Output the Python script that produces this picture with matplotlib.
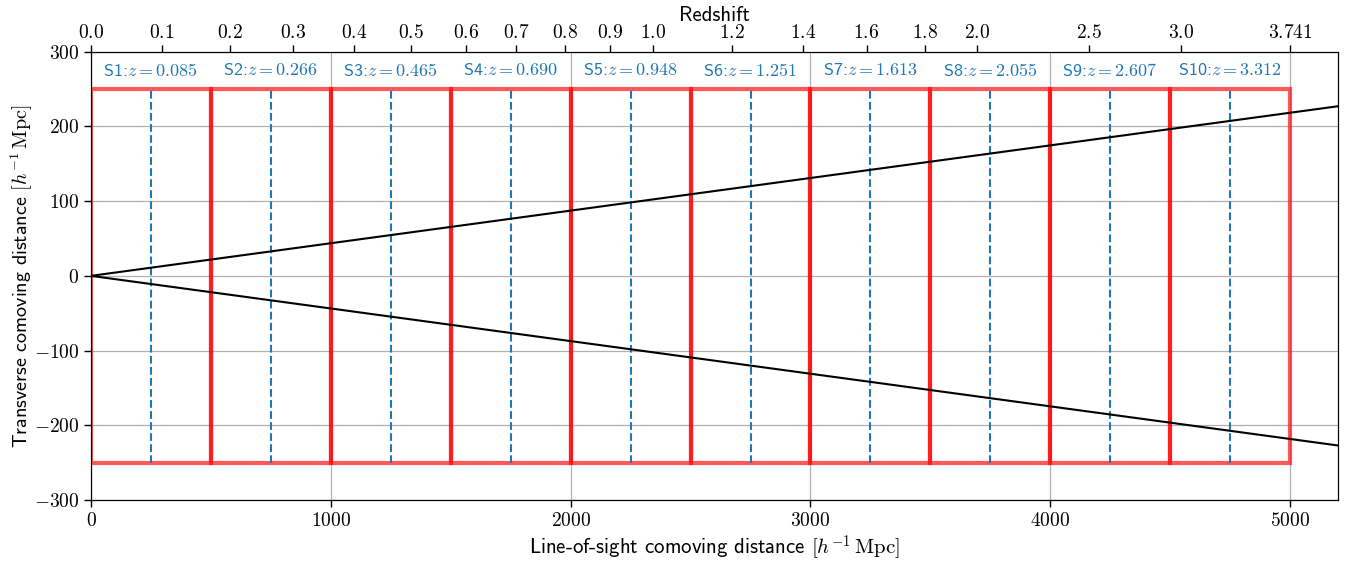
import matplotlib
matplotlib.use('Agg')
import matplotlib.pyplot as plt
import numpy as np
from matplotlib.patches import Rectangle
from matplotlib.ticker import FuncFormatter

plt.rcParams['font.family'] = ['cmss10', 'DejaVu Sans']
plt.rcParams['mathtext.fontset'] = 'cm'
plt.rcParams['axes.unicode_minus'] = False

# slices along the line of sight
slice_names = ['S1', 'S2', 'S3', 'S4', 'S5', 'S6', 'S7', 'S8', 'S9', 'S10']
slice_starts = [0, 500, 1000, 1500, 2000, 2500, 3000, 3500, 4000, 4500]
slice_width = 500
slice_centers = [250, 750, 1250, 1750, 2250, 2750, 3250, 3750, 4250, 4750]
slice_z = [0.085, 0.266, 0.465, 0.690, 0.948, 1.251, 1.613, 2.055, 2.607, 3.312]
box_half_height = 250

# light cone (half opening angle in degrees) and far end
half_angle_deg = 2.5
cone_end = 5200

# redshift <-> comoving distance pairs
known_z = [0.0] + slice_z + [3.741]
known_d = [0] + slice_centers + [5000]
top_ticks = [0.0, 0.1, 0.2, 0.3, 0.4, 0.5, 0.6, 0.7, 0.8, 0.9, 1.0,
             1.2, 1.4, 1.6, 1.8, 2.0, 2.5, 3.0, 3.741]
top_labels = ['0.0', '0.1', '0.2', '0.3', '0.4', '0.5', '0.6', '0.7', '0.8',
              '0.9', '1.0', '1.2', '1.4', '1.6', '1.8', '2.0', '2.5', '3.0', '3.741']


def z_to_d(z):
    # interpolate in u = 1 - 1/sqrt(1+z), where D(z) is close to linear
    u = 1 - 1 / np.sqrt(1 + np.asarray(z, dtype=float))
    ku = 1 - 1 / np.sqrt(1 + np.asarray(known_z))
    return np.interp(u, ku, known_d)


fig = plt.figure(figsize=(13.52, 5.62), dpi=100)
ax = fig.add_axes([0.0673, 0.1103, 0.9224, 0.7977])

ax.grid(True, color='#b0b0b0', linewidth=0.9, zorder=0)
ax.set_axisbelow(True)

for name, x0, xc, z in zip(slice_names, slice_starts, slice_centers, slice_z):
    ax.add_patch(Rectangle((x0, -box_half_height), slice_width, 2 * box_half_height,
                           fill=False, edgecolor='red', alpha=0.65, linewidth=3, zorder=2))
    ax.plot([xc, xc], [-box_half_height, box_half_height], color='tab:blue',
            linestyle='--', linewidth=1.5, zorder=3)
    ax.text(xc, 275, name + ':' + '$z = %.3f$' % z, color='tab:blue',
            fontsize=13, ha='center', va='center', zorder=4)

slope = np.tan(np.radians(half_angle_deg))
ax.plot([0, cone_end], [0, slope * cone_end], color='black', linewidth=1.5, zorder=4)
ax.plot([0, cone_end], [0, -slope * cone_end], color='black', linewidth=1.5, zorder=4)

ax.set_xlim(0, cone_end)
ax.set_ylim(-300, 300)
ax.set_xticks([0, 1000, 2000, 3000, 4000, 5000])
ax.set_yticks([-300, -200, -100, 0, 100, 200, 300])
math_fmt = FuncFormatter(lambda v, p: '$%d$' % v if v >= 0 else '$-%d$' % abs(v))
ax.xaxis.set_major_formatter(math_fmt)
ax.yaxis.set_major_formatter(math_fmt)
ax.tick_params(labelsize=14, length=5, width=1)
ax.set_xlabel(r'Line-of-sight comoving distance $[h^{-1}\,\mathrm{Mpc}]$', fontsize=15, labelpad=2)
ax.set_ylabel(r'Transverse comoving distance $[h^{-1}\,\mathrm{Mpc}]$', fontsize=14.5, labelpad=-1)

top = ax.twiny()
top.set_xlim(ax.get_xlim())
top.set_xticks(z_to_d(top_ticks))
top.set_xticklabels(['$%s$' % t for t in top_labels])
top.tick_params(labelsize=14, length=5, width=1, pad=2)
top.set_xlabel('Redshift', fontsize=15, labelpad=2)

plt.savefig('out.png', dpi=100)
